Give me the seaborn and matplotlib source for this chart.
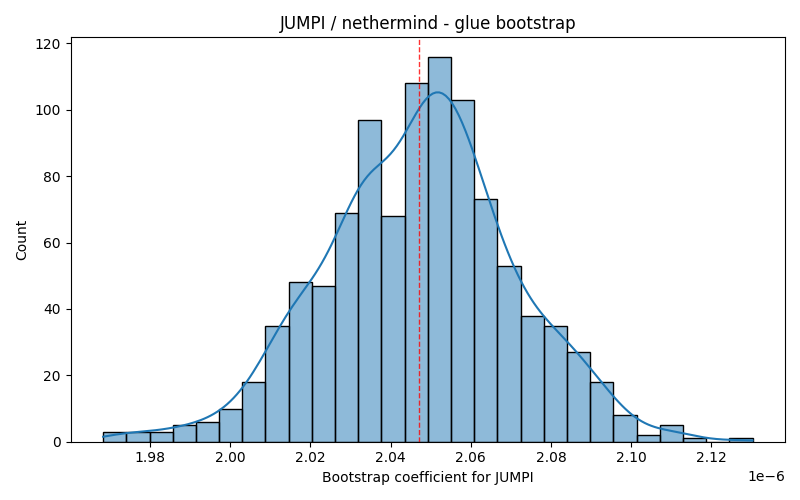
import numpy as np
import pandas as pd
import matplotlib
matplotlib.use('Agg')
import matplotlib.pyplot as plt
import seaborn as sns

# Histogram (1000 bootstrap draws, 28 equal bins)
bin_low = 1.9683e-6
bin_high = 2.1303e-6
n_bins = 28
counts = [3, 3, 3, 5, 6, 10, 18, 35, 48, 47, 69, 97, 68, 108,
          116, 103, 73, 53, 38, 35, 27, 18, 8, 2, 5, 1, 0, 1]
point_estimate = 2.047e-6

title = 'JUMPI / nethermind - glue bootstrap'
x_label = 'Bootstrap coefficient for JUMPI'

# Rebuild the samples at bin centres so the KDE uses the same n
edges = np.linspace(bin_low, bin_high, n_bins + 1)
centers = (edges[:-1] + edges[1:]) / 2
df = pd.DataFrame({'coef': np.repeat(centers, counts)})

fig, ax = plt.subplots(figsize=(8, 5), dpi=100)
sns.histplot(data=df, x='coef', bins=n_bins, binrange=(bin_low, bin_high),
             kde=True, kde_kws={'cut': 1, 'clip': (bin_low, bin_high)}, ax=ax)
ax.axvline(point_estimate, color='red', linestyle='--', linewidth=1, alpha=0.8)
ax.set_title(title)
ax.set_xlabel(x_label)
ax.set_ylabel('Count')
plt.tight_layout()
plt.savefig('out.png')
plt.close()
